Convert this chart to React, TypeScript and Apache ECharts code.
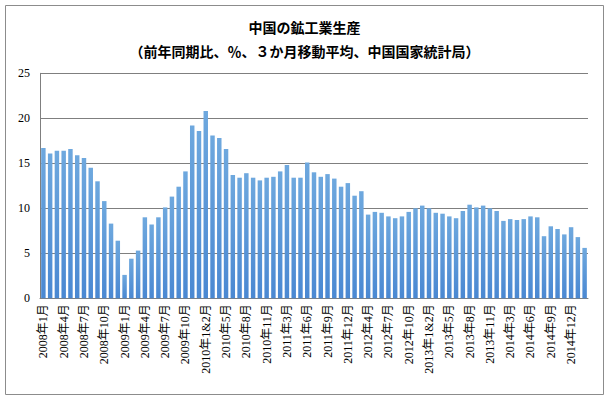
import React, { useEffect, useRef } from "react";
import * as echarts from "echarts";

const y2008 = ["2008年1月","2008年2月","2008年3月","2008年4月","2008年5月","2008年6月","2008年7月","2008年8月","2008年9月","2008年10月","2008年11月","2008年12月"];
const y2009 = ["2009年1月","2009年2月","2009年3月","2009年4月","2009年5月","2009年6月","2009年7月","2009年8月","2009年9月","2009年10月","2009年11月","2009年12月"];
const y2010 = ["2010年1&2月","2010年3月","2010年4月","2010年5月","2010年6月","2010年7月","2010年8月","2010年9月","2010年10月","2010年11月","2010年12月"];
const y2011 = ["2011年1&2月","2011年3月","2011年4月","2011年5月","2011年6月","2011年7月","2011年8月","2011年9月","2011年10月","2011年11月","2011年12月"];
const y2012 = ["2012年1&2月","2012年3月","2012年4月","2012年5月","2012年6月","2012年7月","2012年8月","2012年9月","2012年10月","2012年11月","2012年12月"];
const y2013 = ["2013年1&2月","2013年3月","2013年4月","2013年5月","2013年6月","2013年7月","2013年8月","2013年9月","2013年10月","2013年11月","2013年12月"];
const y2014 = ["2014年1&2月","2014年3月","2014年4月","2014年5月","2014年6月","2014年7月","2014年8月","2014年9月","2014年10月","2014年11月","2014年12月"];
const y2015 = ["2015年1&2月","2015年3月"];
const categories = [...y2008, ...y2009, ...y2010, ...y2011, ...y2012, ...y2013, ...y2014, ...y2015];

const v2008 = [16.7, 16.1, 16.4, 16.4, 16.6, 15.9, 15.6, 14.5, 13.0, 10.8, 8.3, 6.4];
const v2009 = [2.6, 4.4, 5.3, 9.0, 8.2, 9.0, 10.1, 11.3, 12.4, 14.1, 19.2, 18.6];
const v2010 = [20.8, 18.1, 17.8, 16.6, 13.7, 13.4, 13.9, 13.4, 13.1, 13.4, 13.5];
const v2011 = [14.1, 14.8, 13.4, 13.4, 15.1, 14.0, 13.5, 13.8, 13.3, 12.4, 12.8];
const v2012 = [11.4, 11.9, 9.3, 9.6, 9.5, 9.1, 8.9, 9.1, 9.6, 10.0, 10.3];
const v2013 = [10.0, 9.5, 9.4, 9.1, 8.9, 9.7, 10.4, 10.1, 10.3, 10.0, 9.7];
const v2014 = [8.6, 8.8, 8.7, 8.8, 9.1, 9.0, 6.9, 8.0, 7.7, 7.1, 7.9];
const v2015 = [6.8, 5.6];
const values = [...v2008, ...v2009, ...v2010, ...v2011, ...v2012, ...v2013, ...v2014, ...v2015];

const titleText = "中国の鉱工業生産\n（前年同期比、％、３か月移動平均、中国国家統計局）";

export default function App() {
  const ref = useRef<HTMLDivElement>(null);
  useEffect(() => {
    if (!ref.current) return;
    const chart = echarts.init(ref.current, null, { renderer: "svg" });
    const serif = "'Liberation Serif', 'DejaVu Serif', 'Noto Sans CJK JP', serif";
    chart.setOption({
      animation: false,
      backgroundColor: "#ffffff",
      title: {
        text: titleText,
        left: "center",
        top: 10,
        textStyle: {
          fontFamily: "'Noto Sans CJK JP', sans-serif",
          fontWeight: "bold",
          fontSize: 14,
          lineHeight: 24,
          color: "#000000",
        },
      },
      graphic: [
        {
          type: "rect",
          shape: { x: 5.5, y: 5.5, width: 598, height: 389 },
          style: { fill: "none", stroke: "#8c8c8c", lineWidth: 1 },
          silent: true,
        },
      ],
      grid: { left: 40, right: 21, top: 73.3, bottom: 100.7, containLabel: false },
      xAxis: {
        type: "category",
        data: categories,
        axisLine: { show: true, lineStyle: { color: "#7f7f7f" } },
        axisTick: { show: false },
        axisLabel: {
          interval: 2,
          rotate: 90,
          margin: 6,
          fontSize: 12,
          fontFamily: serif,
          color: "#000000",
        },
      },
      yAxis: {
        type: "value",
        min: 0,
        max: 25,
        interval: 5,
        axisLine: { show: true, lineStyle: { color: "#7f7f7f" } },
        axisTick: { show: false },
        splitLine: { lineStyle: { color: "#7f7f7f", width: 1 } },
        axisLabel: { fontSize: 12, fontFamily: serif, color: "#000000", margin: 10 },
      },
      series: [
        {
          type: "bar",
          data: values,
          barCategoryGap: "34%",
          itemStyle: {
            color: new echarts.graphic.LinearGradient(0, 0, 0, 1, [
              { offset: 0, color: "#6ea8de" },
              { offset: 1, color: "#4a88d2" },
            ]),
          },
        },
      ],
    });
    return () => chart.dispose();
  }, []);
  return (
    <div
      ref={ref}
      style={{ position: "fixed", left: 0, top: 0, width: 609, height: 399, background: "#fff" }}
    />
  );
}
